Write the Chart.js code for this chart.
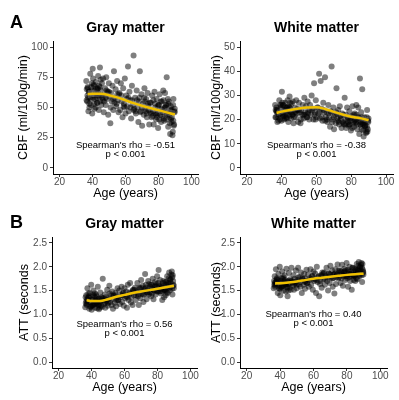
<!DOCTYPE html>
<html>
<head>
<meta charset="utf-8">
<script src="https://cdn.jsdelivr.net/npm/chart.js@4.4.1/dist/chart.umd.min.js"></script>
<style>
  body { margin: 0; background: #ffffff; }
  #wrap { position: relative; width: 399px; height: 400px; }
  #wrap canvas { position: absolute; left: 0; top: 0; }
</style>
</head>
<body>
<div id="wrap">
  <canvas id="gmCbfChart" width="399" height="400"></canvas>
  <canvas id="wmCbfChart" width="399" height="400"></canvas>
  <canvas id="gmAttChart" width="399" height="400"></canvas>
  <canvas id="wmAttChart" width="399" height="400"></canvas>
</div>
<script>
// subjects (same people in every panel)
var ages = [
  36.2, 36.8, 37.1, 37.5, 37.9, 38.3, 38.6, 39.0, 39.4, 39.8, 40.1, 40.5, 40.9, 41.2, 41.6, 42.0, 42.3, 42.7, 43.1, 43.4, 43.8, 44.2, 44.5, 44.9, 45.3, 45.7, 46.0, 46.4, 46.8, 47.2,
  47.6, 48.0, 48.3, 48.7, 49.1, 49.5, 49.9, 50.3, 50.8, 51.2, 51.7, 52.1, 52.6, 53.0, 53.5, 54.0, 54.4, 54.9, 55.3, 55.8,
  56.3, 56.8, 57.2, 57.7, 58.2, 58.6, 59.1, 59.6, 60.0, 60.5, 61.0, 61.5, 62.0, 62.4, 62.9, 63.4, 63.9, 64.4, 64.9, 65.3,
  65.8, 66.3, 66.8, 67.3, 67.8, 68.2, 68.7, 69.2, 69.7, 70.1, 70.6, 71.1, 71.5, 72.0, 72.5, 73.0, 73.4, 73.9, 74.4, 74.8,
  75.3, 75.8, 76.2, 76.7, 77.1, 77.6, 78.0, 78.5, 78.9, 79.4, 79.8, 80.3, 80.7, 81.2, 81.6, 82.0, 82.5, 82.9, 83.3, 83.8,
  84.2, 84.6, 85.0, 85.5, 85.9, 86.3, 86.7, 87.1, 87.5, 87.9, 88.3, 88.7, 89.1, 89.5, 89.9, 36.5, 38.0, 40.3, 42.5, 44.0,
  46.2, 48.5, 51.0, 55.0, 60.8, 66.0, 71.8, 76.5, 80.0, 84.0, 86.5, 88.0, 89.0, 37.3, 39.2, 41.0, 43.6, 45.0, 70.0, 75.0,
  37.7, 38.9, 40.7, 41.9, 43.0, 44.7, 49.3, 53.3, 57.5, 63.0, 68.5, 72.8, 77.9, 79.1, 81.9, 83.0, 85.2, 86.0, 87.7, 89.7, 36.9, 42.2, 47.9, 58.9, 64.0, 74.0, 78.2, 82.2, 84.9, 88.5,
  36.4, 37.0, 38.1, 39.6, 40.6, 41.4, 42.9, 44.4, 45.5, 47.0, 50.0, 52.4, 54.6, 56.0, 59.4, 61.8, 65.0, 67.0, 69.0, 71.3,
  72.3, 73.7, 75.6, 76.9, 78.7, 79.6, 80.5, 81.4, 82.7, 83.5, 84.4, 85.3, 85.7, 86.9, 87.3, 88.1, 88.9, 89.3, 89.8, 43.3
];
var gmCbf = [
  72, 55, 66, 47, 63, 58, 78, 52, 64, 45, 82, 60, 68, 49, 57, 71, 62, 54, 66, 76, 48, 59, 83, 64, 52, 70, 58, 74, 46, 61,
  66, 52, 75, 57, 63, 44, 70, 59, 37, 62, 55, 68, 48, 80, 58, 65, 51, 72, 56, 46,
  62, 48, 70, 55, 42, 66, 53, 74, 45, 60, 51, 84, 47, 63, 56, 41, 68, 52, 93, 49,
  58, 45, 64, 50, 38, 55, 80, 47, 61, 35, 53, 44, 66, 49, 57, 42, 62, 51, 36, 54,
  54, 42, 60, 47, 36, 63, 50, 40, 57, 45, 33, 52, 61, 44, 38, 55, 48, 64, 41, 50,
  50, 40, 75, 46, 34, 55, 42, 28, 51, 38, 47, 30, 57, 36, 49, 65, 53, 74, 58, 68,
  56, 64, 50, 61, 57, 47, 55, 43, 52, 62, 44, 48, 39, 58, 67, 53, 60, 73, 50, 46,
  63, 57, 69, 50, 65, 55, 62, 54, 60, 50, 58, 45, 53, 42, 49, 56, 45, 53, 41, 47, 60, 66, 58, 51, 56, 48, 45, 43, 52, 27,
  56, 67, 50, 70, 58, 64, 54, 67, 60, 55, 63, 57, 53, 61, 50, 58, 48, 56, 46, 58,
  47, 53, 45, 56, 44, 51, 40, 55, 46, 39, 52, 44, 57, 37, 48, 42, 52, 35, 46, 62
];
var wmCbf = [
  26, 21, 24, 19, 23, 22, 28, 20, 25, 19.5, 31.5, 22.5, 26, 20, 21.5, 27, 24, 21, 25, 28, 19, 22, 29.5, 24.5, 20.5, 26.5, 22, 27.5, 18.5, 23,
  25, 21, 28, 22.5, 24.5, 19, 27, 23, 18.5, 24, 22, 26, 20.5, 29, 23, 25.5, 21, 27.5, 22.5, 20,
  26, 22, 30, 24, 20, 35, 23, 28, 21, 25, 22.5, 39, 20.5, 36, 24.5, 19.5, 27, 23, 37.5, 21,
  23, 19, 26, 21, 17, 23.5, 42, 20, 25, 16, 22, 18.5, 33, 20.5, 24, 18, 25.5, 21.5, 16.5, 22.5,
  22, 18, 29, 20, 16.5, 25, 21, 17.5, 23.5, 19.5, 15.5, 21.5, 25.5, 19, 17, 22.5, 20, 26, 18, 21,
  20, 14, 37, 19, 16, 32.5, 18, 13, 21, 17, 19.5, 15, 24, 16, 20.5, 24, 21, 27, 22.5, 25.5,
  22, 24, 20, 23, 25, 20, 22.5, 18, 21, 25, 18.5, 19, 17, 23, 26, 21.5, 24, 27, 21, 19,
  24, 22, 26, 20.5, 25, 21.5, 24, 22, 24.5, 21, 23, 19, 20, 18, 19.5, 22, 18, 21, 17.5, 19.5, 23.5, 25, 23, 22, 24, 20, 19, 18.5, 20.5, 14.5,
  21, 25, 19.5, 26, 22, 24, 20.5, 25, 23, 21, 24, 22, 21, 24, 20, 23, 19.5, 22.5, 19, 23,
  19.5, 21.5, 18.5, 22, 18, 20.5, 16.5, 22, 19, 16, 21, 18, 23, 15.5, 19.5, 17.5, 21, 15, 19, 23.5
];
var gmAtt = [
  1.15, 1.40, 1.22, 1.55, 1.30, 1.35, 1.12, 1.45, 1.25, 1.62, 1.10, 1.32, 1.20, 1.50, 1.38, 1.14, 1.28, 1.42, 1.24, 1.13, 1.58, 1.33, 1.11, 1.26, 1.46, 1.18, 1.36, 1.16, 1.75, 1.29,
  1.22, 1.42, 1.14, 1.36, 1.28, 1.52, 1.18, 1.33, 1.60, 1.26, 1.40, 1.20, 1.48, 1.12, 1.38, 1.24, 1.45, 1.17, 1.35, 1.55,
  1.30, 1.50, 1.22, 1.40, 1.58, 1.26, 1.44, 1.18, 1.55, 1.34, 1.48, 1.14, 1.62, 1.30, 1.42, 1.66, 1.25, 1.46, 1.20, 1.52,
  1.40, 1.56, 1.30, 1.48, 1.66, 1.38, 1.20, 1.54, 1.34, 1.72, 1.44, 1.60, 1.26, 1.50, 1.85, 1.62, 1.32, 1.46, 1.70, 1.42,
  1.46, 1.62, 1.38, 1.54, 1.75, 1.32, 1.50, 1.68, 1.42, 1.58, 1.80, 1.48, 1.93, 1.60, 1.72, 1.44, 1.56, 1.30, 1.66, 1.52,
  1.52, 1.68, 1.40, 1.58, 1.80, 1.45, 1.64, 1.88, 1.50, 1.74, 1.60, 1.90, 1.42, 1.70, 1.55, 1.24, 1.36, 1.18, 1.30, 1.21,
  1.34, 1.25, 1.44, 1.30, 1.38, 1.52, 1.42, 1.62, 1.48, 1.36, 1.66, 1.58, 1.78, 1.32, 1.16, 1.40, 1.26, 1.14, 1.56, 1.64,
  1.26, 1.38, 1.20, 1.44, 1.24, 1.34, 1.30, 1.40, 1.36, 1.46, 1.42, 1.56, 1.50, 1.64, 1.54, 1.48, 1.68, 1.56, 1.72, 1.62, 1.28, 1.22, 1.32, 1.40, 1.36, 1.52, 1.58, 1.60, 1.50, 1.84,
  1.36, 1.20, 1.44, 1.16, 1.30, 1.22, 1.38, 1.19, 1.27, 1.34, 1.24, 1.32, 1.40, 1.30, 1.46, 1.36, 1.50, 1.40, 1.56, 1.42,
  1.54, 1.46, 1.58, 1.44, 1.60, 1.50, 1.66, 1.48, 1.58, 1.70, 1.52, 1.62, 1.46, 1.76, 1.56, 1.66, 1.54, 1.82, 1.60, 1.30
];
var wmAtt = [
  1.55, 1.80, 1.62, 1.95, 1.68, 1.72, 1.45, 1.85, 1.60, 2.00, 1.40, 1.70, 1.58, 1.90, 1.75, 1.50, 1.66, 1.82, 1.63, 1.48, 1.96, 1.69, 1.38, 1.64, 1.87, 1.56, 1.74, 1.52, 1.98, 1.67,
  1.60, 1.82, 1.52, 1.75, 1.66, 1.92, 1.55, 1.72, 1.98, 1.63, 1.78, 1.58, 1.88, 1.45, 1.74, 1.62, 1.85, 1.54, 1.70, 1.94,
  1.66, 1.84, 1.58, 1.76, 1.95, 1.62, 1.80, 1.52, 1.90, 1.70, 1.86, 1.45, 2.00, 1.68, 1.78, 1.38, 1.64, 1.82, 1.56, 1.88,
  1.74, 1.88, 1.62, 1.80, 1.98, 1.70, 1.50, 1.86, 1.66, 2.02, 1.78, 1.92, 1.58, 1.84, 1.44, 1.95, 1.64, 1.82, 2.05, 1.76,
  1.78, 1.92, 1.66, 1.84, 2.04, 1.60, 1.80, 1.96, 1.72, 1.88, 2.08, 1.76, 1.58, 1.90, 2.00, 1.70, 1.86, 1.52, 1.98, 1.82,
  1.82, 1.96, 1.70, 1.88, 2.06, 1.74, 1.92, 2.10, 1.80, 2.00, 1.86, 2.08, 1.68, 1.94, 1.84, 1.62, 1.74, 1.54, 1.70, 1.58,
  1.70, 1.64, 1.78, 1.68, 1.74, 1.86, 1.76, 1.90, 1.80, 1.72, 1.94, 1.88, 1.98, 1.68, 1.56, 1.76, 1.64, 1.50, 1.84, 1.92,
  1.64, 1.72, 1.58, 1.78, 1.62, 1.70, 1.68, 1.76, 1.72, 1.80, 1.78, 1.86, 1.82, 1.92, 1.84, 1.80, 1.94, 1.86, 1.98, 1.90, 1.66, 1.60, 1.68, 1.74, 1.70, 1.84, 1.88, 1.90, 1.82, 2.04,
  1.70, 1.58, 1.76, 1.54, 1.66, 1.60, 1.72, 1.56, 1.64, 1.70, 1.62, 1.68, 1.76, 1.66, 1.80, 1.72, 1.82, 1.74, 1.86, 1.76,
  1.84, 1.78, 1.88, 1.76, 1.90, 1.80, 1.94, 1.78, 1.86, 1.98, 1.80, 1.90, 1.76, 2.02, 1.84, 1.92, 1.82, 2.06, 1.88, 1.66
];

// loess fit + confidence band
var fitAges = [37, 40, 45, 50, 55, 60, 65, 70, 75, 80, 85, 90];
var gmCbfFit = [61.0, 61.4, 61.3, 60.2, 58.4, 56.0, 53.6, 51.5, 49.6, 47.8, 46.0, 44.2];
var gmCbfLo = [57.5, 58.6, 59.1, 58.2, 56.4, 54.0, 51.6, 49.5, 47.6, 45.7, 43.5, 40.8];
var gmCbfHi = [64.5, 64.2, 63.5, 62.2, 60.4, 58.0, 55.6, 53.5, 51.6, 49.9, 48.5, 47.6];
var wmCbfFit = [22.8, 23.3, 24.0, 24.6, 25.0, 25.1, 24.4, 23.2, 22.1, 21.2, 20.6, 19.8];
var wmCbfLo = [21.5, 22.3, 23.2, 23.8, 24.2, 24.3, 23.6, 22.4, 21.3, 20.4, 19.7, 18.5];
var wmCbfHi = [24.1, 24.3, 24.8, 25.4, 25.8, 25.9, 25.2, 24.0, 22.9, 22.0, 21.5, 21.1];
var gmAttFit = [1.30, 1.28, 1.28, 1.32, 1.37, 1.41, 1.45, 1.48, 1.51, 1.54, 1.57, 1.60];
var gmAttLo = [1.26, 1.25, 1.255, 1.295, 1.345, 1.385, 1.425, 1.455, 1.485, 1.515, 1.54, 1.555];
var gmAttHi = [1.34, 1.31, 1.305, 1.345, 1.395, 1.435, 1.475, 1.505, 1.535, 1.565, 1.60, 1.645];
var wmAttFit = [1.65, 1.655, 1.67, 1.69, 1.72, 1.75, 1.77, 1.79, 1.81, 1.83, 1.845, 1.855];
var wmAttLo = [1.615, 1.625, 1.65, 1.67, 1.70, 1.73, 1.75, 1.77, 1.79, 1.81, 1.82, 1.82];
var wmAttHi = [1.685, 1.685, 1.69, 1.71, 1.74, 1.77, 1.79, 1.81, 1.83, 1.85, 1.87, 1.89];

// ticks
var xTicks = [20, 40, 60, 80, 100];
var gmCbfTicks = [0, 25, 50, 75, 100];
var wmCbfTicks = [0, 10, 20, 30, 40, 50];
var attTicks = [0, 0.5, 1.0, 1.5, 2.0, 2.5];

// annotation text
var gmCbfNote = ["Spearman's rho = -0.51", "p < 0.001"];
var wmCbfNote = ["Spearman's rho = -0.38", "p < 0.001"];
var gmAttNote = ["Spearman's rho = 0.56", "p < 0.001"];
var wmAttNote = ["Spearman's rho = 0.40", "p < 0.001"];

var FONT = '"Liberation Sans", Arial, Helvetica, sans-serif';
var Y_AXIS_W = 40;
var X_AXIS_H = 30;

function toPoints(xs, ys) {
  return xs.map(function (x, i) {
    return { x: x, y: ys[i] };
  });
}

var panelTextPlugin = {
  id: "panelText",
  afterDraw: function (chart, args, opts) {
    var ctx = chart.ctx;
    var area = chart.chartArea;
    var xs = chart.scales.x;
    var ys = chart.scales.y;
    ctx.save();
    ctx.fillStyle = "#000000";
    ctx.textAlign = "center";
    ctx.textBaseline = "middle";
    ctx.font = "bold 14px " + FONT;
    ctx.fillText(opts.title, (area.left + area.right) / 2, area.top - 13);
    if (opts.letter) {
      ctx.font = "bold 18px " + FONT;
      ctx.fillText(opts.letter, opts.letterX, opts.letterY);
    }
    ctx.font = "9.5px " + FONT;
    opts.note.forEach(function (line, i) {
      ctx.fillText(line, xs.getPixelForValue(opts.noteX), ys.getPixelForValue(opts.noteY[i]));
    });
    ctx.restore();
  },
};

function renderPanel(canvasId, p) {
  try {
    var canvas = document.getElementById(canvasId);
    var ctx = canvas.getContext("2d");
    return new Chart(ctx, {
      type: "scatter",
      data: {
        datasets: [
          {
            type: "line",
            data: toPoints(fitAges, p.fit),
            borderColor: "#EFC000",
            borderWidth: 2.5,
            pointRadius: 0,
            cubicInterpolationMode: "monotone",
            fill: false,
          },
          {
            type: "line",
            data: toPoints(fitAges, p.hi),
            borderColor: "rgba(0,0,0,0)",
            borderWidth: 0,
            pointRadius: 0,
            backgroundColor: "rgba(153,153,153,0.4)",
            cubicInterpolationMode: "monotone",
            fill: 2,
          },
          {
            type: "line",
            data: toPoints(fitAges, p.lo),
            borderColor: "rgba(0,0,0,0)",
            borderWidth: 0,
            pointRadius: 0,
            cubicInterpolationMode: "monotone",
            fill: false,
          },
          {
            data: toPoints(ages, p.values),
            backgroundColor: "rgba(0,0,0,0.5)",
            borderWidth: 0,
            pointRadius: 3,
          },
        ],
      },
      options: {
        responsive: false,
        animation: false,
        events: [],
        layout: {
          padding: {
            left: p.area.l - Y_AXIS_W,
            right: 399 - p.area.r,
            top: p.area.t,
            bottom: 400 - p.area.b - X_AXIS_H,
          },
        },
        scales: {
          x: {
            type: "linear",
            min: 16,
            max: 104,
            afterBuildTicks: function (scale) {
              scale.ticks = xTicks.map(function (v) { return { value: v }; });
            },
            afterFit: function (scale) { scale.height = X_AXIS_H; },
            grid: { drawOnChartArea: false, drawTicks: true, tickLength: 3, color: "#333333" },
            border: { display: true, color: "#000000", width: 1 },
            ticks: {
              color: "#4D4D4D",
              padding: 0,
              maxRotation: 0,
              font: { family: FONT, size: 10, lineHeight: 1 },
            },
            title: {
              display: true,
              text: "Age (years)",
              color: "#000000",
              font: { family: FONT, size: 12.5 },
              padding: { top: 0, bottom: 2.5 },
            },
          },
          y: {
            type: "linear",
            min: p.yMin,
            max: p.yMax,
            afterBuildTicks: function (scale) {
              scale.ticks = p.ticks.map(function (v) { return { value: v }; });
            },
            afterFit: function (scale) { scale.width = Y_AXIS_W; },
            grid: { drawOnChartArea: false, drawTicks: true, tickLength: 3, color: "#333333" },
            border: { display: true, color: "#000000", width: 1 },
            ticks: {
              color: "#4D4D4D",
              padding: 2,
              font: { family: FONT, size: 10 },
              callback: function (v) { return p.decimals ? v.toFixed(1) : String(v); },
            },
            title: {
              display: true,
              text: p.yTitle,
              color: "#000000",
              font: { family: FONT, size: 12.5 },
              padding: { top: p.yTitleX - (p.area.l - Y_AXIS_W) - 7.5, bottom: 0 },
            },
          },
        },
        plugins: {
          legend: { display: false },
          tooltip: { enabled: false },
          panelText: {
            title: p.title,
            letter: p.letter,
            letterX: 16.5,
            letterY: p.letterY,
            note: p.note,
            noteX: 60,
            noteY: p.noteY,
          },
        },
      },
      plugins: [panelTextPlugin],
    });
  } catch (error) {
    console.log(error);
  }
}

renderPanel("gmCbfChart", {
  values: gmCbf, fit: gmCbfFit, lo: gmCbfLo, hi: gmCbfHi,
  ticks: gmCbfTicks, yMin: -5, yMax: 105, decimals: false,
  yTitle: "CBF (ml/100g/min)", yTitleX: 24,
  title: "Gray matter", letter: "A", letterY: 23,
  note: gmCbfNote, noteY: [19, 11.5],
  area: { l: 53, r: 198, t: 41, b: 174 },
});
renderPanel("wmCbfChart", {
  values: wmCbf, fit: wmCbfFit, lo: wmCbfLo, hi: wmCbfHi,
  ticks: wmCbfTicks, yMin: -2.5, yMax: 52.5, decimals: false,
  yTitle: "CBF (ml/100g/min)", yTitleX: 217,
  title: "White matter", letter: "", letterY: 0,
  note: wmCbfNote, noteY: [9.4, 5.7],
  area: { l: 240, r: 393, t: 41, b: 174 },
});
renderPanel("gmAttChart", {
  values: gmAtt, fit: gmAttFit, lo: gmAttLo, hi: gmAttHi,
  ticks: attTicks, yMin: -0.125, yMax: 2.625, decimals: true,
  yTitle: "ATT (seconds", yTitleX: 25,
  title: "Gray matter", letter: "B", letterY: 223,
  note: gmAttNote, noteY: [0.8, 0.6],
  area: { l: 52, r: 197, t: 237, b: 368 },
});
renderPanel("wmAttChart", {
  values: wmAtt, fit: wmAttFit, lo: wmAttLo, hi: wmAttHi,
  ticks: attTicks, yMin: -0.125, yMax: 2.625, decimals: true,
  yTitle: "ATT (seconds)", yTitleX: 216.5,
  title: "White matter", letter: "", letterY: 0,
  note: wmAttNote, noteY: [1.0, 0.81],
  area: { l: 240, r: 387, t: 237, b: 368 },
});
</script>
</body>
</html>
